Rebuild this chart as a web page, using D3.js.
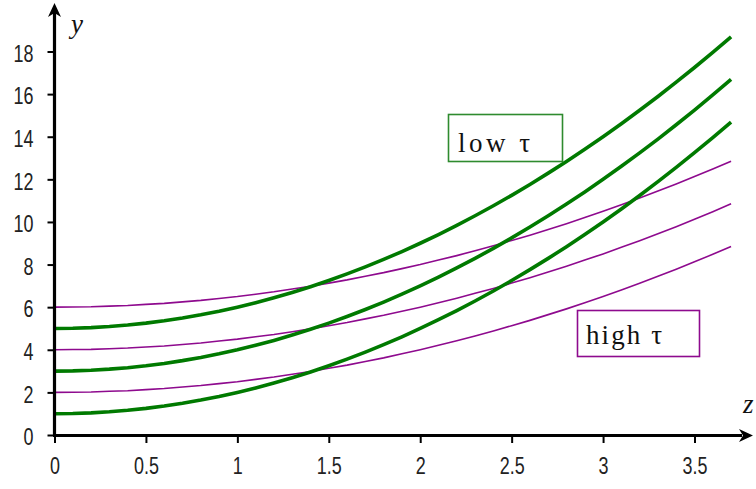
<!DOCTYPE html>
<html><head><meta charset="utf-8">
<script src="https://cdn.jsdelivr.net/npm/d3@7"></script>
<style>body{margin:0;background:#fff}svg{display:block}</style>
</head><body>
<svg id="c" width="756" height="489"></svg>
<script>
const zValues = [0,0.1,0.2,0.3,0.4,0.5,0.6,0.7,0.8,0.9,1,1.1,1.2,1.3,1.4,1.5,1.6,1.7,1.8,1.9,2,2.1,2.2,2.3,2.4,2.5,2.6,2.7,2.8,2.9,3,3.1,3.2,3.3,3.4,3.5,3.6,3.7];
const greenLow1 = [1.00,1.01,1.04,1.09,1.16,1.25,1.36,1.49,1.64,1.81,2.00,2.21,2.44,2.69,2.96,3.25,3.56,3.89,4.24,4.61,5.00,5.41,5.84,6.29,6.76,7.25,7.76,8.29,8.84,9.41,10.00,10.61,11.24,11.89,12.56,13.25,13.96,14.69];
const greenLow3 = [3.00,3.01,3.04,3.09,3.16,3.25,3.36,3.49,3.64,3.81,4.00,4.21,4.44,4.69,4.96,5.25,5.56,5.89,6.24,6.61,7.00,7.41,7.84,8.29,8.76,9.25,9.76,10.29,10.84,11.41,12.00,12.61,13.24,13.89,14.56,15.25,15.96,16.69];
const greenLow5 = [5.00,5.01,5.04,5.09,5.16,5.25,5.36,5.49,5.64,5.81,6.00,6.21,6.44,6.69,6.96,7.25,7.56,7.89,8.24,8.61,9.00,9.41,9.84,10.29,10.76,11.25,11.76,12.29,12.84,13.41,14.00,14.61,15.24,15.89,16.56,17.25,17.96,18.69];
const purpleHigh2 = [2.00,2.01,2.02,2.05,2.08,2.13,2.18,2.25,2.32,2.41,2.50,2.61,2.72,2.85,2.98,3.13,3.28,3.45,3.62,3.81,4.00,4.21,4.42,4.65,4.88,5.13,5.38,5.65,5.92,6.21,6.50,6.81,7.12,7.45,7.78,8.13,8.48,8.85];
const purpleHigh4 = [4.00,4.01,4.02,4.05,4.08,4.13,4.18,4.25,4.32,4.41,4.50,4.61,4.72,4.85,4.98,5.13,5.28,5.45,5.62,5.81,6.00,6.21,6.42,6.65,6.88,7.13,7.38,7.65,7.92,8.21,8.50,8.81,9.12,9.45,9.78,10.13,10.48,10.85];
const purpleHigh6 = [6.00,6.01,6.02,6.05,6.08,6.13,6.18,6.25,6.32,6.41,6.50,6.61,6.72,6.85,6.98,7.13,7.28,7.45,7.62,7.81,8.00,8.21,8.42,8.65,8.88,9.13,9.38,9.65,9.92,10.21,10.50,10.81,11.12,11.45,11.78,12.13,12.48,12.85];
const xTicks = [0,0.5,1,1.5,2,2.5,3,3.5];
const xTickLabels = ["0","0.5","1","1.5","2","2.5","3","3.5"];
const yTicks = [0,2,4,6,8,10,12,14,16,18];
const greenSeries = [greenLow1, greenLow3, greenLow5];
const purpleSeries = [purpleHigh2, purpleHigh4, purpleHigh6];

const svg = d3.select("#c");
const x = d3.scaleLinear().domain([0,3.5]).range([54.5,694.5]);
const y = d3.scaleLinear().domain([0,18]).range([435,51.5]);

const line = d3.line().x((d,i)=>x(zValues[i])).y(d=>y(d));

svg.append("g").selectAll("path").data(purpleSeries).join("path")
  .attr("d", line).attr("fill","none").attr("stroke","#8e0a8e").attr("stroke-width",1.6);
svg.append("g").selectAll("path").data(greenSeries).join("path")
  .attr("d", line).attr("fill","none").attr("stroke","#007a00").attr("stroke-width",3.6)
  .attr("stroke-linejoin","round");

const fontNum = "'Liberation Sans', Arial, sans-serif";
const sx = 0.78;
const yAxis = d3.axisLeft(y).tickValues(yTicks).tickSize(7);
const gy = svg.append("g").attr("transform","translate(54.5,0)").call(yAxis);
gy.select(".domain").remove();
gy.selectAll(".tick line").attr("stroke","#000").attr("stroke-width",2);
gy.selectAll(".tick text").attr("font-family",fontNum).attr("font-size",23)
  .attr("fill","#222").attr("x",-21/sx).attr("dy","0.42em").attr("transform",`scale(${sx},1)`);

const xAxis = d3.axisBottom(x).tickValues(xTicks).tickFormat((d,i)=>xTickLabels[i]).tickSize(8);
const gx = svg.append("g").attr("transform","translate(0,435)").call(xAxis);
gx.select(".domain").remove();
gx.selectAll(".tick line").attr("stroke","#000").attr("stroke-width",2);
gx.selectAll(".tick text").attr("font-family",fontNum).attr("font-size",23).attr("fill","#222")
  .attr("y",29).attr("dy","0.42em").attr("transform",`scale(${sx},1)`);

svg.append("line").attr("x1",54.5).attr("y1",436).attr("x2",54.5).attr("y2",12)
  .attr("stroke","#000").attr("stroke-width",3.2);
svg.append("line").attr("x1",53).attr("y1",435.5).attr("x2",742).attr("y2",435.5)
  .attr("stroke","#000").attr("stroke-width",3.2);
svg.append("path").attr("d","M54.5,3 L48,17 L54.5,13 L61,17 Z").attr("fill","#000");
svg.append("path").attr("d","M753,435.5 L739,429 L743,435.5 L739,442 Z").attr("fill","#000");

svg.append("text").attr("x",71).attr("y",33).text("y")
  .attr("font-family","'Liberation Serif', serif").attr("font-style","italic").attr("font-size",27).attr("fill","#111");
svg.append("text").attr("x",743).attr("y",413).text("z")
  .attr("font-family","'Liberation Serif', serif").attr("font-style","italic").attr("font-size",27).attr("fill","#111");

function box(x0,y0,w,h,color,label,tx,ty,tl){
  svg.append("rect").attr("x",x0).attr("y",y0).attr("width",w).attr("height",h)
    .attr("fill","#fff").attr("stroke",color).attr("stroke-width",1.6);
  svg.append("text").attr("x",tx).attr("y",ty).text(label)
    .attr("font-family","'Liberation Serif', serif").attr("font-size",27).attr("fill","#111")
    .attr("textLength",tl).attr("lengthAdjust","spacing");
}
box(448.5,114.5,114,47,"#2e8b2e","low τ",458,152,72);
box(577.5,310.5,122,46,"#8e0a8e","high τ",586,344,76);
</script>
</body></html>
